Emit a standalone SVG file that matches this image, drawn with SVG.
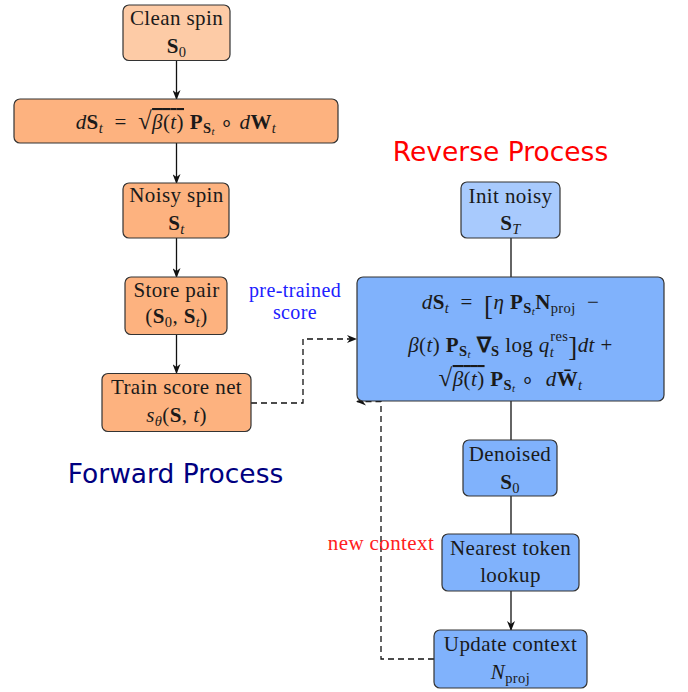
<svg xmlns="http://www.w3.org/2000/svg" width="688" height="692" viewBox="0 0 688 692">
<defs>
<style>
.box{stroke:#333;stroke-width:1.2}
.peach{fill:#FDCBA6}
.orange{fill:#FDB27F}
.lblue{fill:#A8CAFD}
.blue{fill:#80B2FC}
.t{font-family:"Liberation Serif","Times New Roman",serif;font-size:21px;letter-spacing:0.4px;fill:#1a1a1a}
.i{font-style:italic}
.b{font-weight:bold}
.s{font-size:14.5px}
.ss{font-size:11px}
.title{font-family:"DejaVu Sans",sans-serif;font-size:26.5px}
.conn{stroke:#111;stroke-width:1.3;fill:none}
.dash{stroke-dasharray:6,4}
</style>
<marker id="arr" viewBox="0 0 10 8" refX="9" refY="4" markerWidth="10" markerHeight="8" markerUnits="userSpaceOnUse" orient="auto">
<path d="M0,0 L10,4 L0,8 L3,4 Z" fill="#111"/>
</marker>
</defs>
<rect width="688" height="692" fill="#fff"/>

<g id="connectors">
<line class="conn" x1="176.5" y1="61" x2="176.5" y2="99" marker-end="url(#arr)"/>
<line class="conn" x1="176.5" y1="143" x2="176.5" y2="183" marker-end="url(#arr)"/>
<line class="conn" x1="176.5" y1="238" x2="176.5" y2="277" marker-end="url(#arr)"/>
<line class="conn" x1="176.5" y1="335" x2="176.5" y2="373" marker-end="url(#arr)"/>
<path class="conn dash" d="M251,403 H303 V339 H356" marker-end="url(#arr)"/>
<line class="conn" x1="511" y1="238" x2="511" y2="277"/>
<line class="conn" x1="511" y1="401" x2="511" y2="440"/>
<line class="conn" x1="511" y1="496" x2="511" y2="534"/>
<line class="conn" x1="511" y1="591" x2="511" y2="630" marker-end="url(#arr)"/>
<path class="conn dash" d="M434,659 H381 V401.5 H357" marker-end="url(#arr)"/>
</g>

<g id="clean-spin">
<rect class="box peach" x="123" y="5" width="107" height="55.5" rx="6"/>
<text class="t" x="176.5" y="25" text-anchor="middle">Clean spin</text>
<text class="t" x="176.5" y="53" text-anchor="middle"><tspan class="b">S</tspan><tspan class="s" dy="4">0</tspan></text>
</g>

<g id="forward-sde">
<rect class="box orange" x="14" y="99" width="324" height="44" rx="6"/>
<text class="t" x="176" y="129" text-anchor="middle"><tspan class="i">d</tspan><tspan class="b">S</tspan><tspan class="i s" dy="4">t</tspan><tspan dy="-4">&#160;&#160;=&#160;&#160;</tspan><tspan font-size="25">√</tspan><tspan class="i" text-decoration="overline">β</tspan><tspan text-decoration="overline">(</tspan><tspan class="i" text-decoration="overline">t</tspan><tspan text-decoration="overline">)</tspan><tspan>&#160;</tspan><tspan class="b">P</tspan><tspan class="b s" dy="4">S</tspan><tspan class="i ss" dy="2">t</tspan><tspan dy="-6">&#160;∘&#160;</tspan><tspan class="i">d</tspan><tspan class="b">W</tspan><tspan class="i s" dy="4">t</tspan></text>
</g>

<g id="noisy-spin">
<rect class="box orange" x="123" y="183" width="106" height="55" rx="6"/>
<text class="t" x="176.5" y="202" text-anchor="middle">Noisy spin</text>
<text class="t" x="176.5" y="230" text-anchor="middle"><tspan class="b">S</tspan><tspan class="i s" dy="4">t</tspan></text>
</g>

<g id="store-pair">
<rect class="box orange" x="125" y="277" width="102" height="57.5" rx="6"/>
<text class="t" x="176.5" y="297" text-anchor="middle">Store pair</text>
<text class="t" x="176.5" y="323" text-anchor="middle">(<tspan class="b">S</tspan><tspan class="s" dy="4">0</tspan><tspan dy="-4">,&#160;</tspan><tspan class="b">S</tspan><tspan class="i s" dy="4">t</tspan><tspan dy="-4">)</tspan></text>
</g>

<g id="train-score">
<rect class="box orange" x="102" y="373.5" width="149" height="58" rx="6"/>
<text class="t" x="176.5" y="394" text-anchor="middle">Train score net</text>
<text class="t" x="176.5" y="422" text-anchor="middle"><tspan class="i">s</tspan><tspan class="i s" dy="4">θ</tspan><tspan dy="-4">(</tspan><tspan class="b">S</tspan><tspan>,&#160;</tspan><tspan class="i">t</tspan><tspan>)</tspan></text>
</g>

<g id="labels">
<text class="title" x="175.5" y="483" text-anchor="middle" fill="#000080">Forward Process</text>
<text class="title" x="500.5" y="161" text-anchor="middle" fill="#FF0000">Reverse Process</text>
<text class="t" x="295" y="297" text-anchor="middle" style="fill:#2020FF;font-size:20px">pre-trained</text>
<text class="t" x="295" y="319" text-anchor="middle" style="fill:#2020FF;font-size:20px">score</text>
<text class="t" x="381" y="550" text-anchor="middle" style="fill:#FF2020">new context</text>
</g>

<g id="init-noisy">
<rect class="box lblue" x="461" y="182" width="99" height="56" rx="6"/>
<text class="t" x="510.5" y="203" text-anchor="middle">Init noisy</text>
<text class="t" x="510.5" y="230" text-anchor="middle"><tspan class="b">S</tspan><tspan class="i s" dy="4">T</tspan></text>
</g>

<g id="reverse-sde">
<rect class="box blue" x="357" y="277" width="307" height="124" rx="6"/>
<text class="t" x="510.5" y="309" text-anchor="middle"><tspan class="i">d</tspan><tspan class="b">S</tspan><tspan class="i s" dy="4">t</tspan><tspan dy="-4">&#160;&#160;=&#160;&#160;</tspan><tspan font-size="27" dy="6">[</tspan><tspan class="i" dy="-6">η</tspan><tspan>&#160;</tspan><tspan class="b">P</tspan><tspan class="b s" dy="4">S</tspan><tspan class="i ss" dy="2">t</tspan><tspan class="b" dy="-6">N</tspan><tspan class="s" dy="4">proj</tspan><tspan dy="-4">&#160;&#160;−</tspan></text>
<text class="t" x="510.5" y="352" text-anchor="middle"><tspan class="i">β</tspan>(<tspan class="i">t</tspan>)<tspan>&#160;</tspan><tspan class="b">P</tspan><tspan class="b s" dy="4">S</tspan><tspan class="i ss" dy="2">t</tspan><tspan dy="-6">&#160;</tspan><tspan class="b">∇</tspan><tspan class="b s" dy="4">S</tspan><tspan dy="-4">&#160;log&#160;</tspan><tspan class="i">q</tspan><tspan class="i s" dy="5">t</tspan><tspan class="s" dx="-4" dy="-16">res</tspan><tspan font-size="27" dy="15">]</tspan><tspan class="i" dy="-4">dt</tspan><tspan>&#160;+</tspan></text>
<text class="t" x="510.5" y="386" text-anchor="middle"><tspan font-size="25">√</tspan><tspan class="i" text-decoration="overline">β</tspan><tspan text-decoration="overline">(</tspan><tspan class="i" text-decoration="overline">t</tspan><tspan text-decoration="overline">)</tspan><tspan>&#160;</tspan><tspan class="b">P</tspan><tspan class="b s" dy="4">S</tspan><tspan class="i ss" dy="2">t</tspan><tspan dy="-6">&#160;∘&#160;&#160;</tspan><tspan class="i">d</tspan><tspan class="b">W̄</tspan><tspan class="i s" dy="4">t</tspan></text>
</g>

<g id="denoised">
<rect class="box blue" x="463" y="440" width="94" height="56" rx="6"/>
<text class="t" x="510" y="461" text-anchor="middle">Denoised</text>
<text class="t" x="510" y="489" text-anchor="middle"><tspan class="b">S</tspan><tspan class="s" dy="4">0</tspan></text>
</g>

<g id="nearest-token">
<rect class="box blue" x="442" y="534" width="137" height="57" rx="6"/>
<text class="t" x="510.5" y="555" text-anchor="middle">Nearest token</text>
<text class="t" x="510.5" y="582" text-anchor="middle">lookup</text>
</g>

<g id="update-context">
<rect class="box blue" x="434" y="630" width="153" height="58" rx="6"/>
<text class="t" x="510.5" y="651" text-anchor="middle">Update context</text>
<text class="t" x="510.5" y="679" text-anchor="middle"><tspan class="i">N</tspan><tspan class="s" dy="4">proj</tspan></text>
</g>
</svg>
